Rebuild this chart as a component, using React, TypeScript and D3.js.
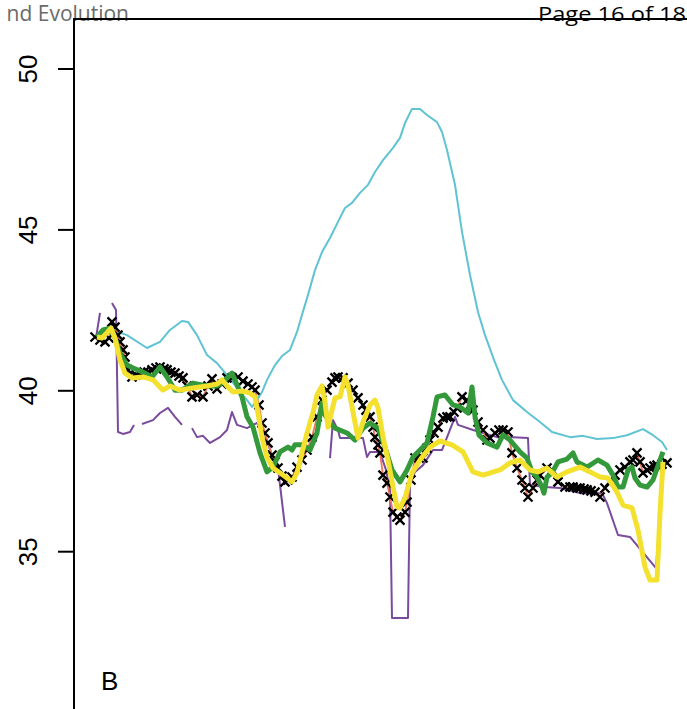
import React from "react";
import * as d3 from "d3";

const W = 687;
const H = 709;

const yTicks = [35, 40, 45, 50];
const headerLeft = "nd Evolution";
const headerRight = "Page 16 of 18";
const panelLabel = "B";

type P = [number, number | null];

const cyan: P[] = [
  [19, 41.89], [26.5, 41.73], [36.5, 41.33], [43, 41.52], [48, 41.89], [54, 42.17], [57, 42.14],
  [61.5, 41.73], [66.5, 41.11], [71.5, 40.86], [76.5, 40.49], [81.5, 40.09], [86.5, 39.71],
  [89, 39.5], [91.5, 39.71], [94, 39.96], [96.5, 40.34], [100.5, 40.8], [104, 41.08], [108, 41.27],
  [111.5, 41.83], [114, 42.36], [117, 42.98], [120.5, 43.75], [124, 44.31], [128, 44.75],
  [132, 45.25], [135.5, 45.68], [139, 45.84], [143, 46.15], [147, 46.4], [150.5, 46.8],
  [154.5, 47.17], [159.5, 47.55], [163, 47.86], [165.5, 48.32], [169, 48.76], [173, 48.76],
  [176.5, 48.57], [181.5, 48.35], [184, 48.04], [186.5, 47.48], [190.5, 46.4], [194, 44.94],
  [198, 43.6], [202, 42.45], [205.5, 41.73], [210, 40.96], [214, 40.34], [219.5, 39.71],
  [226.5, 39.34], [233, 39.03], [239, 38.72], [248, 38.56], [254.5, 38.6], [261.5, 38.5],
  [269.5, 38.53], [276.5, 38.62], [284.5, 38.81], [289.5, 38.62], [294, 38.41], [296.5, 38.16],
];

const purple: P[] = [
  [11, 41.64], [13, 42.42], [13.5, null],
  [19, 42.73], [21, 42.51], [22, 38.72], [24.5, 38.66], [28, 38.72], [30, 38.94], [31, null],
  [34, 38.97], [39.5, 39.09], [43, 39.31], [47, 39.47], [50.5, 39.19], [54, 38.94], [55, null],
  [59, 38.84], [61.5, 38.56], [64.5, 38.6], [68, 38.38], [73, 38.56], [76.5, 38.78], [79, 39.34],
  [81.5, 38.94], [86.5, 38.84], [91.5, 39.0], [95.5, 38.63], [99, 38.0], [102, 37.6], [105.5, 35.77],
  [106, null],
  [128, 37.91], [129.5, 39.09], [132, 38.78], [133, 38.53], [144.5, 38.53], [146.5, 37.94],
  [148, 38.1], [151.5, 38.1], [153.5, 38.0], [156, 37.54], [158, 36.92], [159, 32.94], [167, 32.94],
  [168, 37.13], [170.5, 37.48], [174.5, 37.69], [179.5, 38.16], [184, 38.16], [190.5, 39.19],
  [192, 38.94], [199.5, 38.78], [211.5, 38.56], [219.5, 38.56], [227, 38.53], [228, 37.07],
  [235.5, 37.01], [243, 36.98], [253, 36.82], [264, 36.82], [266.5, 36.51], [272, 35.52],
  [278, 35.46], [291, 34.49], [295, 37.79],
];

const green: P[] = [
  [11.5, 41.67], [14.5, 41.89], [18, 41.95], [20.5, 41.64], [23, 41.17], [26.5, 40.8], [29.5, 40.71],
  [34.5, 40.58], [39, 40.43], [43, 40.74], [46.5, 40.43], [50.5, 40.02], [54, 40.02], [59.5, 40.24],
  [66.5, 40.15], [71.5, 40.15], [74.5, 40.27], [79, 40.55], [80.5, 40.34], [84, 39.81], [86.5, 39.19],
  [89.5, 38.87], [93, 38.07], [96.5, 37.48], [99.5, 37.63], [103, 38.1], [107, 38.25], [109, 38.16],
  [110.5, 38.32], [114.5, 38.32], [118, 38.16], [121.5, 38.69], [124, 39.62], [125.5, 39.25],
  [128, 39.0], [130.5, 38.84], [136.5, 38.69], [140.5, 38.47], [144.5, 38.84], [148, 39.0],
  [152, 38.84], [155.5, 38.25], [159, 37.54], [163, 37.17], [166.5, 37.54], [169.5, 37.94],
  [176.5, 38.38], [179.5, 39.19], [181.5, 39.81], [185.5, 39.87], [189.5, 39.56], [193, 39.5],
  [197, 39.31], [199, 40.12], [200.5, 39.19], [202.5, 38.63], [206.5, 38.38], [211.5, 38.25],
  [214.5, 38.63], [218, 38.47], [223, 38.1], [226.5, 37.91], [229, 37.48], [231.5, 37.32],
  [234, 37.01], [235, 36.82], [236.5, 37.32], [239, 37.45], [242, 37.79], [246.5, 37.88],
  [249.5, 38.07], [251.5, 37.79], [256.5, 37.63], [262, 37.85], [266.5, 37.69], [269.5, 37.38],
  [272, 37.01], [274.5, 37.01], [277, 37.54], [279, 37.63], [280.5, 37.29], [283, 37.07],
  [286.5, 37.01], [289.5, 37.23], [293, 37.85], [294.5, 38.1],
];

const yellow: P[] = [
  [11.5, 41.67], [14, 41.64], [16.5, 41.8], [18.5, 41.95], [20.5, 41.64], [23, 40.96], [25.5, 40.55],
  [29, 40.4], [34.5, 40.43], [39.5, 40.34], [44.5, 40.02], [48, 40.15], [53, 40.02], [59.5, 40.09],
  [66.5, 40.15], [71.5, 40.21], [74, 40.34], [76.5, 40.15], [79.5, 39.96], [84, 39.99], [88, 39.93],
  [90.5, 39.81], [92, 39.31], [94, 38.56], [96.5, 37.94], [99.5, 37.6], [103, 37.45], [109, 37.17],
  [111.5, 37.45], [114, 38.07], [116.5, 38.69], [119.5, 39.31], [121.5, 39.87], [124, 40.15],
  [125.5, 39.65], [127, 38.87], [129, 39.4], [130.5, 39.78], [133, 39.81], [135.5, 40.43],
  [137, 40.18], [139.5, 39.34], [142, 38.53], [144.5, 39.03], [148, 39.56], [150.5, 39.71],
  [152, 39.47], [154.5, 38.56], [157, 37.85], [159.5, 37.01], [161.5, 36.39], [163, 36.36],
  [165.5, 36.67], [169, 37.45], [173, 37.85], [178, 38.25], [183, 38.44], [189, 38.32],
  [194.5, 38.1], [199.5, 37.48], [204.5, 37.38], [213, 37.54], [218, 37.76], [223, 37.85],
  [228, 37.54], [232, 37.48], [236.5, 37.6], [241.5, 37.32], [246.5, 37.48], [253, 37.63],
  [258, 37.48], [263, 37.32], [267, 37.29], [271.5, 36.85], [274.5, 36.45], [279, 36.36],
  [282, 35.67], [285.5, 34.52], [288, 34.12], [291.5, 34.12], [293, 36.2], [294.5, 37.79],
];

const observed: P[] = [
  [10.5, 41.67], [13, 41.58], [15.5, 41.52], [17.5, 41.64], [19, 42.14], [20.5, 41.98], [22, 41.73],
  [23, 41.52], [24.5, 41.27], [25.5, 41.05], [27, 40.65], [29, 40.43], [31, 40.49], [33, 40.55],
  [35, 40.58], [37, 40.58], [39, 40.65], [41, 40.71], [43, 40.74], [45, 40.68], [46.5, 40.65],
  [48.5, 40.58], [50.5, 40.55], [52.5, 40.46], [54.5, 40.4], [56.5, 40.15], [59, 39.81],
  [61.5, 39.87], [64.5, 39.81], [67, 40.15], [69, 40.37], [71.5, 40.06], [74, 40.21], [76.5, 40.4],
  [79, 40.4], [82, 40.43], [84.5, 40.3], [87, 40.21], [89, 40.12], [90.5, 40.02], [92.5, 39.56],
  [94, 39.0], [95.5, 38.69], [97, 38.38], [99, 38.0], [100.5, 37.79], [102, 37.6], [104, 37.35],
  [105.5, 37.17], [107, 37.23], [109, 37.32], [111.5, 37.63], [114, 37.85], [116.5, 38.16],
  [119, 38.56], [121.5, 39.19], [124, 39.71], [126.5, 40.02], [129, 40.27], [130.5, 40.4],
  [132, 40.43], [134.5, 40.4], [137, 40.24], [139.5, 40.02], [142, 39.78], [144.5, 39.56],
  [146, 39.4], [148, 39.19], [149.5, 38.87], [150.5, 38.56], [152, 38.32], [153, 38.07],
  [154.5, 37.38], [156.5, 37.13], [158, 36.7], [159.5, 36.23], [161.5, 36.08], [163, 35.98],
  [165.5, 36.23], [166.5, 36.54], [168.5, 37.23], [170.5, 37.91], [172.5, 37.91], [174.5, 37.91],
  [176.5, 38.22], [178, 38.47], [180, 38.69], [182, 38.87], [184.5, 39.15], [186.5, 39.19],
  [188, 39.19], [190, 39.34], [191.5, 39.47], [194, 39.81], [196.5, 39.71], [198, 39.56],
  [199.5, 39.4], [202, 39.03], [204.5, 38.78], [206.5, 38.47], [208, 38.53], [210.5, 38.69],
  [212.5, 38.78], [214.5, 38.78], [217, 38.72], [219, 38.07], [221.5, 37.6], [224, 37.23],
  [225.5, 36.98], [227, 36.7], [229.5, 36.98], [231.5, 37.23], [233, 37.38], [236.5, 37.6],
  [239, 37.54], [242, 37.17], [245.5, 37.01], [248, 37.01], [249.5, 37.01], [251.5, 36.98],
  [253, 36.98], [255, 36.95], [256.5, 36.92], [258.5, 36.89], [260.5, 36.85], [263, 36.7],
  [265.5, 36.98], [268, 37.17], [270.5, 37.38], [273, 37.54], [275.5, 37.63], [278, 37.79],
  [279.5, 37.85], [281.5, 38.07], [283, 37.79], [284.5, 37.45], [286.5, 37.54], [288, 37.6],
  [290, 37.66], [291.5, 37.69], [294, 37.72], [296.5, 37.76],
];

const COLORS = {
  cyan: "#5fc3d3",
  purple: "#7a4a9c",
  green: "#33993a",
  yellow: "#f3e12e",
  salmon: "#ef735c",
};

export default function App() {
  const x = d3.scaleLinear().domain([0, 300]).range([74, 674]);
  const y = d3.scaleLinear().domain([35, 50]).range([551.7, 69]);
  const line = d3
    .line<P>()
    .defined((d) => d[1] != null)
    .x((d) => x(d[0]))
    .y((d) => y(d[1] as number));

  const axisX = x(0);
  const tickFont = "'Liberation Sans', Arial, sans-serif";
  const headFont = "'Open Sans', 'Noto Sans', sans-serif";

  return (
    <svg
      width={W}
      height={H}
      style={{ position: "absolute", left: 0, top: 0, background: "#fff" }}
    >
      <rect x={0} y={0} width={W} height={H} fill="#fff" />
      {/* header */}
      <text
        x={129}
        y={21}
        textAnchor="end"
        fontFamily={headFont}
        fontSize={21}
        fill="#6a6a6a"
      >
        {headerLeft}
      </text>
      <text
        x={686}
        y={21}
        textAnchor="end"
        fontFamily={headFont}
        fontSize={20}
        fill="#000"
        textLength={148}
        lengthAdjust="spacingAndGlyphs"
      >
        {headerRight}
      </text>
      <line x1={axisX - 1} x2={W} y1={19} y2={19} stroke="#000" strokeWidth={2} />

      {/* y axis */}
      <line x1={axisX} x2={axisX} y1={18} y2={H} stroke="#000" strokeWidth={2} />
      {yTicks.map((t) => (
        <g key={t}>
          <line x1={axisX - 16} x2={axisX} y1={y(t)} y2={y(t)} stroke="#000" strokeWidth={2} />
          <text
            transform={`translate(37,${y(t)}) rotate(-90)`}
            textAnchor="middle"
            fontFamily={tickFont}
            fontSize={26}
            fill="#000"
          >
            {t}
          </text>
        </g>
      ))}

      {/* series */}
      <path d={line(cyan) || ""} fill="none" stroke={COLORS.cyan} strokeWidth={2} strokeLinejoin="round" />
      <path d={line(purple) || ""} fill="none" stroke={COLORS.purple} strokeWidth={2} strokeLinejoin="round" />
      <path d={line(observed) || ""} fill="none" stroke={COLORS.salmon} strokeWidth={1.8} />
      {observed.map((d, i) => (
        <path
          key={i}
          transform={`translate(${x(d[0])},${y(d[1] as number)})`}
          d="M-4.5,-4.5L4.5,4.5M-4.5,4.5L4.5,-4.5"
          stroke="#000"
          strokeWidth={2.3}
          fill="none"
        />
      ))}
      <path d={line(green) || ""} fill="none" stroke={COLORS.green} strokeWidth={5} strokeLinejoin="round" />
      <path d={line(yellow) || ""} fill="none" stroke={COLORS.yellow} strokeWidth={5} strokeLinejoin="round" />

      <text x={101} y={690} fontFamily={tickFont} fontSize={26} fill="#000">
        {panelLabel}
      </text>
    </svg>
  );
}
